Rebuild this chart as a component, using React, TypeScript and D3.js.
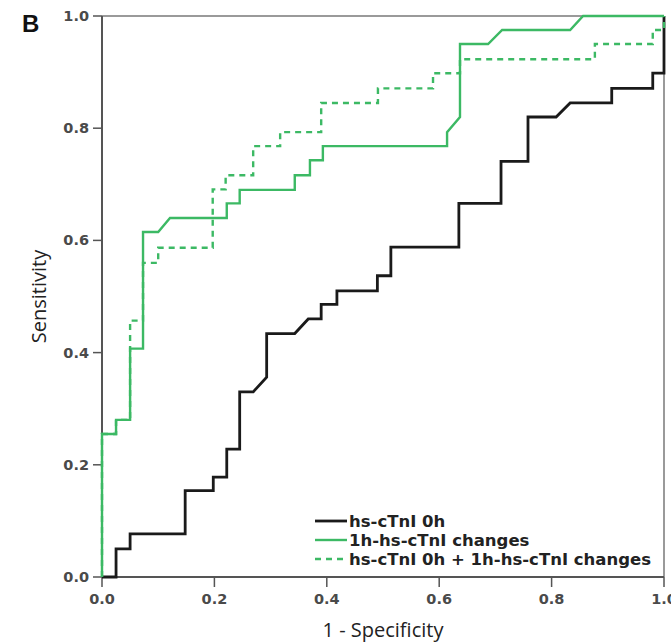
import React from "react";
import * as d3 from "d3";

const xTicks = [0, 0.2, 0.4, 0.6, 0.8, 1.0];
const yTicks = [0, 0.2, 0.4, 0.6, 0.8, 1.0];

const seriesNames = [
  "hs-cTnI 0h",
  "1h-hs-cTnI changes",
  "hs-cTnI 0h + 1h-hs-cTnI changes",
];

// hs-cTnI 0h
const blackFpr = [0, 0.025, 0.025, 0.05, 0.05, 0.148, 0.148, 0.198, 0.198, 0.222, 0.222, 0.245, 0.245, 0.269, 0.293, 0.293, 0.343, 0.367, 0.39, 0.39, 0.418, 0.418, 0.49, 0.49, 0.514, 0.514, 0.635, 0.635, 0.71, 0.71, 0.758, 0.758, 0.808, 0.833, 0.907, 0.907, 0.98, 0.98, 1.0, 1.0];
const blackTpr = [0, 0, 0.05, 0.05, 0.077, 0.077, 0.154, 0.154, 0.178, 0.178, 0.228, 0.228, 0.33, 0.33, 0.356, 0.434, 0.434, 0.46, 0.46, 0.486, 0.486, 0.51, 0.51, 0.537, 0.537, 0.588, 0.588, 0.666, 0.666, 0.741, 0.741, 0.82, 0.82, 0.845, 0.845, 0.871, 0.871, 0.898, 0.898, 1.0];

// 1h-hs-cTnI changes
const greenFpr = [0, 0, 0.025, 0.025, 0.05, 0.05, 0.073, 0.073, 0.1, 0.121, 0.222, 0.222, 0.245, 0.245, 0.343, 0.343, 0.37, 0.37, 0.393, 0.393, 0.614, 0.614, 0.637, 0.637, 0.687, 0.712, 0.833, 0.856, 1.0];
const greenTpr = [0, 0.255, 0.255, 0.28, 0.28, 0.407, 0.407, 0.615, 0.615, 0.64, 0.64, 0.666, 0.666, 0.69, 0.69, 0.716, 0.716, 0.743, 0.743, 0.768, 0.768, 0.793, 0.82, 0.95, 0.95, 0.975, 0.975, 1.0, 1.0];

// hs-cTnI 0h + 1h-hs-cTnI changes
const dashFpr = [0, 0, 0.025, 0.025, 0.05, 0.05, 0.073, 0.073, 0.1, 0.1, 0.197, 0.197, 0.22, 0.22, 0.269, 0.269, 0.317, 0.317, 0.39, 0.39, 0.491, 0.491, 0.589, 0.589, 0.637, 0.637, 0.877, 0.877, 0.98, 0.98, 1.0, 1.0];
const dashTpr = [0, 0.255, 0.255, 0.28, 0.28, 0.457, 0.457, 0.56, 0.56, 0.587, 0.587, 0.691, 0.691, 0.716, 0.716, 0.768, 0.768, 0.793, 0.793, 0.845, 0.845, 0.871, 0.871, 0.898, 0.898, 0.923, 0.923, 0.95, 0.95, 0.975, 0.975, 1.0];

const GREEN = "#3cb964";

export default function App() {
  const W = 671, H = 643;
  const left = 102, right = 664, top = 16, bottom = 577;
  const x = d3.scaleLinear().domain([0, 1]).range([left, right]);
  const y = d3.scaleLinear().domain([0, 1]).range([bottom, top]);
  const line = d3.line<[number, number]>().x(d => x(d[0])).y(d => y(d[1]));
  const zip = (a: number[], b: number[]) => a.map((v, i) => [v, b[i]] as [number, number]);

  const tickFont = { fontFamily: "DejaVu Sans", fontWeight: 700, fontSize: 14.5, fill: "#4a4a4a" } as const;
  const legFont = { fontFamily: "DejaVu Sans", fontWeight: 700, fontSize: 16.5, fill: "#222" } as const;

  const legendRows = [
    { name: seriesNames[0], color: "#1a1a1a", dash: undefined as string | undefined, w: 2.8 },
    { name: seriesNames[1], color: GREEN, dash: undefined, w: 2.4 },
    { name: seriesNames[2], color: GREEN, dash: "6,5", w: 2.4 },
  ];

  return (
    <svg width={W} height={H} style={{ position: "absolute", left: 0, top: 0, background: "#fff" }}>
      <rect x={0} y={0} width={W} height={H} fill="#fff" />
      {/* frame */}
      <line x1={left} y1={top} x2={right} y2={top} stroke="#9a9a9a" strokeWidth={2} />
      <line x1={right} y1={top} x2={right} y2={bottom} stroke="#9a9a9a" strokeWidth={2} />
      <line x1={left} y1={top} x2={left} y2={bottom} stroke="#555" strokeWidth={2} />
      <line x1={left} y1={bottom} x2={right} y2={bottom} stroke="#555" strokeWidth={2} />
      {/* y ticks */}
      {yTicks.map(t => (
        <g key={"y" + t}>
          <line x1={left - 9} x2={left} y1={y(t)} y2={y(t)} stroke="#555" strokeWidth={1.5} />
          <text x={left - 13} y={y(t) + 5} textAnchor="end" {...tickFont}>{t.toFixed(1)}</text>
        </g>
      ))}
      {/* x ticks */}
      {xTicks.map(t => (
        <g key={"x" + t}>
          <line x1={x(t)} x2={x(t)} y1={bottom} y2={bottom + 10} stroke="#555" strokeWidth={1.5} />
          <text x={x(t)} y={bottom + 27} textAnchor="middle" {...tickFont}>{t.toFixed(1)}</text>
        </g>
      ))}
      {/* curves */}
      <path d={line(zip(blackFpr, blackTpr)) || ""} fill="none" stroke="#1a1a1a" strokeWidth={2.8} />
      <path d={line(zip(dashFpr, dashTpr)) || ""} fill="none" stroke={GREEN} strokeWidth={2.4} strokeDasharray="6,5" />
      <path d={line(zip(greenFpr, greenTpr)) || ""} fill="none" stroke={GREEN} strokeWidth={2.4} />
      {/* legend */}
      {legendRows.map((r, i) => {
        const cy = 521 + i * 19;
        return (
          <g key={r.name}>
            <line x1={315} x2={347} y1={cy} y2={cy} stroke={r.color} strokeWidth={r.w} strokeDasharray={r.dash} />
            <text x={349} y={cy + 6} {...legFont}>{r.name}</text>
          </g>
        );
      })}
      {/* labels */}
      <text x={(left + right) / 2} y={637} textAnchor="middle" fontFamily="Open Sans" fontSize={20} fill="#222">1 - Specificity</text>
      <text transform={`translate(46, ${(top + bottom) / 2}) rotate(-90)`} textAnchor="middle" fontFamily="Open Sans" fontSize={20} fill="#222">Sensitivity</text>
      <text x={22} y={32} fontFamily="Liberation Sans" fontWeight={700} fontSize={24} fill="#111">B</text>
    </svg>
  );
}
